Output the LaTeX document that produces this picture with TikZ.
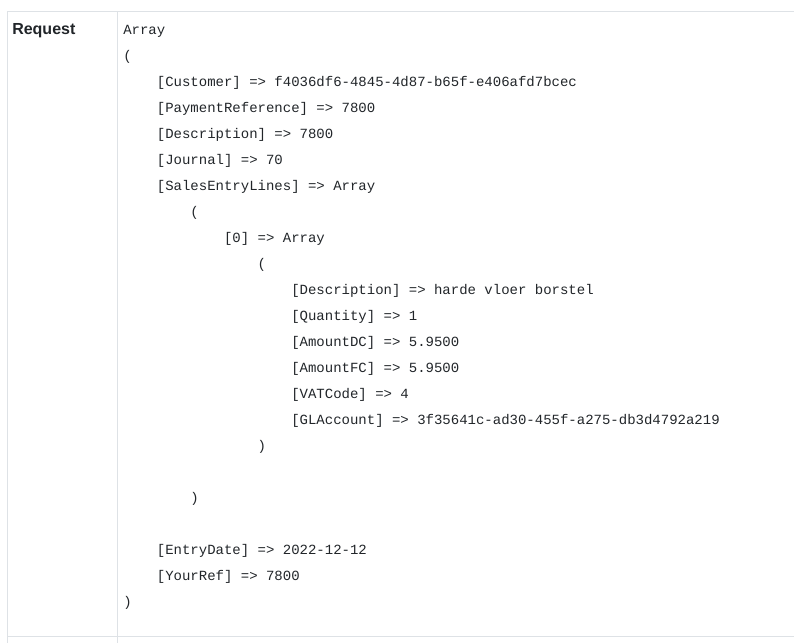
\documentclass[tikz,border=0pt]{standalone}
\usepackage{fontspec}
\setmainfont{Liberation Sans}
\setmonofont{Liberation Mono}
\usepackage{tikz}
\definecolor{gridline}{HTML}{DEE2E6}
\definecolor{codetext}{HTML}{212529}
\definecolor{headtext}{HTML}{212529}
\tikzset{
	codeline/.style={anchor=base west, inner sep=0pt, text=codetext, font=\ttfamily\fontsize{10.5pt}{12pt}\selectfont},
	headcell/.style={anchor=base west, inner sep=0pt, text=headtext, font=\bfseries\fontsize{12pt}{14pt}\selectfont},
	border/.style={draw=gridline, line width=0.75pt}
}

\begin{document}
\begin{tikzpicture}[x=0.75pt, y=-0.75pt]
\def \colx {123}     % x of the first code column
\def \tabw {33.6}    % four characters
\def \firstbase {34} % baseline of the first line
\def \linegap {26}   % line spacing

\useasboundingbox (0,0) rectangle (794,643);

% table rules
\coordinate (tl) at (7,11);
\coordinate (tr) at (794,11);
\coordinate (bl) at (7,643);
\coordinate (ml) at (7,636);
\coordinate (mr) at (794,636);
\coordinate (dt) at (117,11);
\coordinate (db) at (117,643);
\draw[border] (tr) -- (tl) -- (bl);
\draw[border] (ml) -- (mr);
\draw[border] (dt) -- (db);

\node[headcell] (head) at (12,34.5) {Request};

% the printed array, one node per line
\foreach \n/\lvl/\txt in {
	1/0/Array,
	2/0/{(},
	3/1/{[Customer] => f4036df6-4845-4d87-b65f-e406afd7bcec},
	4/1/{[PaymentReference] => 7800},
	5/1/{[Description] => 7800},
	6/1/{[Journal] => 70},
	7/1/{[SalesEntryLines] => Array},
	8/2/{(},
	9/3/{[0] => Array},
	10/4/{(},
	11/5/{[Description] => harde vloer borstel},
	12/5/{[Quantity] => 1},
	13/5/{[AmountDC] => 5.9500},
	14/5/{[AmountFC] => 5.9500},
	15/5/{[VATCode] => 4},
	16/5/{[GLAccount] => 3f35641c-ad30-455f-a275-db3d4792a219},
	17/4/{)},
	19/2/{)},
	21/1/{[EntryDate] => 2022-12-12},
	22/1/{[YourRef] => 7800},
	23/0/{)}}
{
	\node[codeline] (line\n) at ({\colx + \tabw*\lvl}, {\firstbase + \linegap*(\n - 1)}) {\txt};
}
\end{tikzpicture}
\end{document}
